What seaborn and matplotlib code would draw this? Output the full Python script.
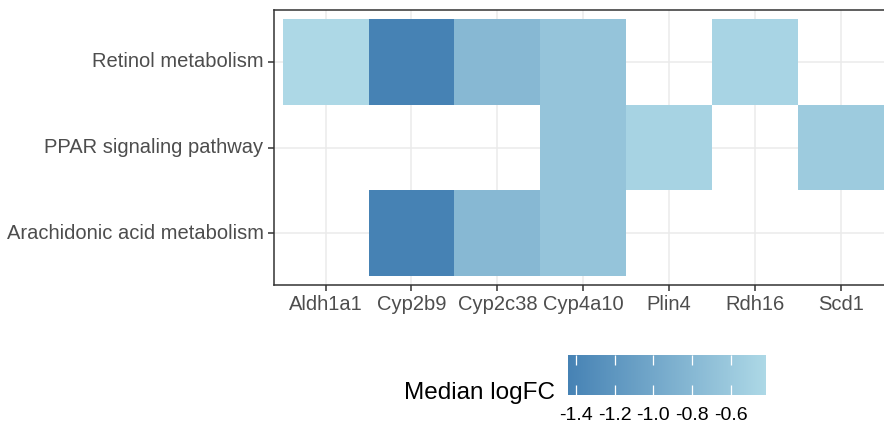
import numpy as np
import pandas as pd
import matplotlib
matplotlib.use("Agg")
import matplotlib.pyplot as plt
import seaborn as sns
from matplotlib.colors import LinearSegmentedColormap

# ---- data ----
pathways = ["Retinol metabolism", "PPAR signaling pathway", "Arachidonic acid metabolism"]
genes = ["Aldh1a1", "Cyp2b9", "Cyp2c38", "Cyp4a10", "Plin4", "Rdh16", "Scd1"]
gene_logfc = {"Aldh1a1": -0.42, "Cyp2b9": -1.44, "Cyp2c38": -0.80, "Cyp4a10": -0.66,
              "Plin4": -0.48, "Rdh16": -0.47, "Scd1": -0.58}
retinol_genes = ["Aldh1a1", "Cyp2b9", "Cyp2c38", "Cyp4a10", "Rdh16"]
ppar_genes = ["Cyp4a10", "Plin4", "Scd1"]
arachidonic_genes = ["Cyp2b9", "Cyp2c38", "Cyp4a10"]
cbar_ticks = [-1.4, -1.2, -1.0, -0.8, -0.6]

rows = []
for pw, gl in zip(pathways, [retinol_genes, ppar_genes, arachidonic_genes]):
    for g in gl:
        rows.append({"pathway": pw, "gene": g, "logFC": gene_logfc[g]})
df = pd.DataFrame(rows)
mat = df.pivot(index="pathway", columns="gene", values="logFC").reindex(index=pathways, columns=genes)

# ---- style ----
sns.set_theme(style="white")
plt.rcParams["font.family"] = ["Liberation Sans", "DejaVu Sans"]

cmap = LinearSegmentedColormap.from_list("sb_lb", ["#4682B4", "#ADD8E6"])

fig = plt.figure(figsize=(8.84, 4.25), dpi=100)
ax = fig.add_axes([274/884, 1 - 285/425, (892.6 - 274)/884, 275/425])
cax = fig.add_axes([568/884, 1 - 395/425, 198/884, 40/425])

sns.heatmap(mat, ax=ax, cmap=cmap, vmin=np.nanmin(mat.values), vmax=np.nanmax(mat.values),
            cbar=True, cbar_ax=cax, cbar_kws={"orientation": "horizontal"},
            linewidths=0)

ax.set_xlim(-0.1, len(genes) + 0.1)
ax.set_ylim(len(pathways) + 0.1, -0.1)
ax.set_axisbelow(True)
ax.grid(True, color="#EBEBEB", linewidth=1.1)
for c in ax.collections:
    c.set_zorder(2)
    c.set_edgecolor("face")
ax.set_xlabel("")
ax.set_ylabel("")
ax.set_xticks(np.arange(len(genes)) + 0.5)
ax.set_xticklabels(genes, rotation=0, fontsize=14.5, color="#4D4D4D")
ax.set_yticks(np.arange(len(pathways)) + 0.5)
ax.set_yticklabels(pathways, rotation=0, fontsize=14.5, color="#4D4D4D")
ax.tick_params(axis="both", length=4.5, width=1.1, color="#333333", pad=3, bottom=True, left=True)
for s in ax.spines.values():
    s.set_visible(True)
    s.set_color("#333333")
    s.set_linewidth(1.1)

# colorbar styling
cb = ax.collections[0].colorbar
cb.outline.set_visible(False)
cax.set_axisbelow(False)
cb.set_ticks(cbar_ticks)
cb.set_ticklabels([f"{t:.1f}" for t in cbar_ticks])
cax.tick_params(axis="x", direction="in", length=7, width=0.9, color="white",
                top=True, bottom=True, labelsize=14, labelcolor="black", pad=9)
fig.text(555/884, 1 - 393/425, "Median logFC", ha="right", va="center", fontsize=17.5, color="black")

fig.savefig("out.png", dpi=100)
